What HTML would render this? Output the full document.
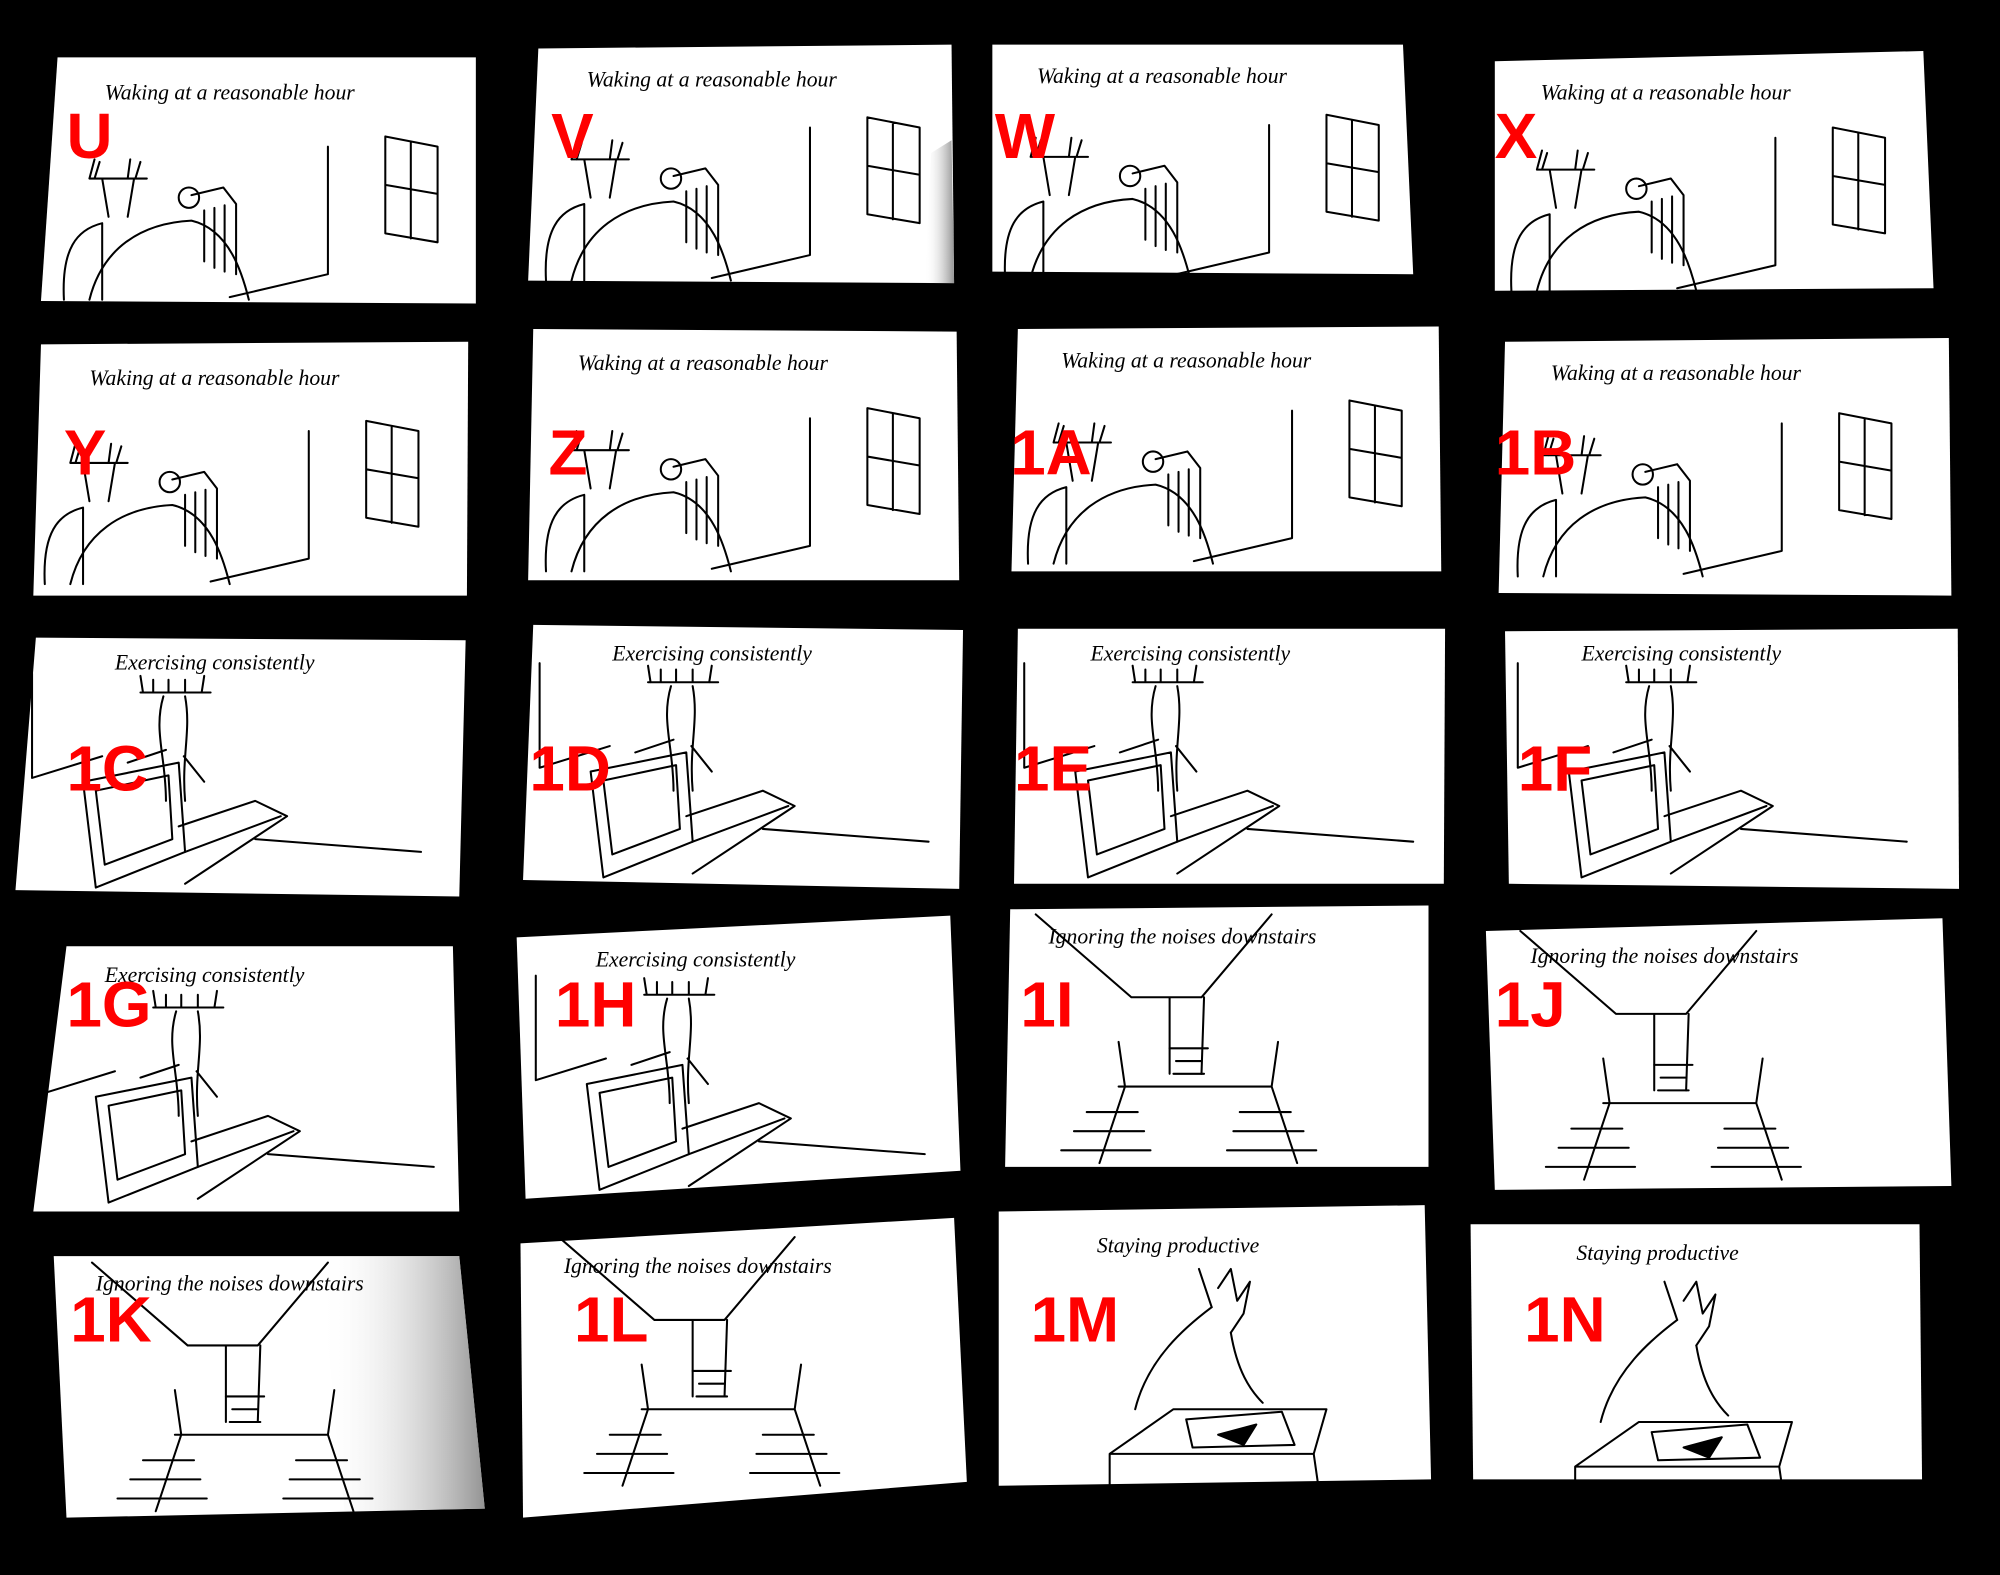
<!DOCTYPE html>
<html><head><meta charset="utf-8"><style>
html,body{margin:0;padding:0;background:#000;}
svg{display:block}
.t{font-family:"Liberation Serif",serif;font-style:italic;font-size:17px;fill:#000}
.l{font-family:"Liberation Sans",sans-serif;font-weight:bold;font-size:50px;fill:#f00}
.s{fill:none;stroke:#000;stroke-width:1.6;stroke-linejoin:round;stroke-linecap:round}
</style></head><body>
<svg width="2000" height="1575" viewBox="0 0 1568 1235" xmlns="http://www.w3.org/2000/svg">
<rect width="1568" height="1235" fill="#000"/>
<defs>
<linearGradient id="gk" x1="0" x2="1" y1="0" y2="0">
 <stop offset="0" stop-color="#fff" stop-opacity="0"/>
 <stop offset="1" stop-color="#888" stop-opacity="0.9"/>
</linearGradient>
<g id="wake" class="s">
 <path d="M217 70 L217 170 L140 188"/>
 <path d="M262 62 L303 70 L303 145 L262 138 Z M282 66 L282 142 M262 100 L303 107"/>
 <path d="M10 190 C8 150 20 135 40 130 L40 190"/>
 <path d="M30 190 C40 150 70 130 110 128 C140 135 150 170 155 190"/>
 <path d="M30 95 L34 80 M34 95 L38 82 M60 95 L62 80 M66 95 L70 82 M30 95 L75 95 M40 95 L45 125 M65 95 L60 125"/>
 <path d="M110 108 L135 102 L145 115 L145 170 M120 120 L120 160 M128 118 L128 165 M136 116 L136 168"/>
 <circle cx="108" cy="110" r="8"/>
</g>
<g id="ex" class="s">
 <path d="M5 112 L60 95 M5 112 L5 30 M180 160 L310 170"/>
 <path d="M45 115 L120 100 L125 170 L55 198 Z M55 122 L112 110 L115 160 L62 180 Z"/>
 <path d="M120 150 L180 130 L205 142 L125 195 M125 170 L200 142"/>
 <path d="M90 45 L145 45 M92 45 L90 32 M100 45 L100 35 M112 45 L112 35 M125 45 L125 35 M138 45 L140 32"/>
 <path d="M108 48 C100 75 110 95 110 130 M125 48 C130 75 122 95 125 130 M110 90 L80 100 M124 95 L140 115"/>
</g>
<g id="st" class="s">
 <path d="M20 5 L95 70 L150 70 L205 5 M125 70 L125 130 M152 70 L150 130"/>
 <path d="M85 105 L90 140 L205 140 L210 105 M90 140 L70 200 M205 140 L225 200 M85 140 L120 140"/>
 <path d="M60 160 L100 160 M50 175 L105 175 M40 190 L110 190 M180 160 L220 160 M175 175 L230 175 M170 190 L240 190"/>
 <path d="M130 120 L150 120 M128 130 L152 130 M125 110 L155 110"/>
</g>
<g id="pr" class="s">
 <path d="M150 40 L160 70 M165 55 L175 40 L180 65 L190 50 L185 75 L175 90"/>
 <path d="M100 150 C110 110 140 85 160 70 M175 90 C180 120 190 135 200 145"/>
 <path d="M80 185 L130 150 L250 150 L240 185 Z M240 185 L245 220 M80 185 L80 220"/>
 <path d="M140 158 L215 152 L225 178 L145 180 Z"/>
 <path d="M165 170 L195 162 L185 178 Z" fill="#000"/>
</g>
</defs>

<polygon points="45,45 373,45 373,238 32,236" fill="#fff"/>
<use href="#wake" x="40" y="45"/><text class="t" x="82" y="78">Waking at a reasonable hour</text><text class="l" x="52" y="124">U</text>
<polygon points="422,38 746,35 748,222 414,220" fill="#fff"/>
<polygon points="730,120 746,110 748,222 725,222" fill="url(#gk)"/>
<use href="#wake" x="418" y="30"/><text class="t" x="460" y="68">Waking at a reasonable hour</text><text class="l" x="432" y="124">V</text>
<polygon points="778,35 1100,35 1108,215 778,213" fill="#fff"/>
<use href="#wake" x="778" y="28"/><text class="t" x="813" y="65">Waking at a reasonable hour</text><text class="l" x="780" y="124">W</text>
<polygon points="1172,48 1508,40 1516,226 1172,228" fill="#fff"/>
<use href="#wake" x="1175" y="38"/><text class="t" x="1208" y="78">Waking at a reasonable hour</text><text class="l" x="1172" y="124">X</text>

<polygon points="32,270 367,268 366,467 26,467" fill="#fff"/>
<use href="#wake" x="25" y="268"/><text class="t" x="70" y="302">Waking at a reasonable hour</text><text class="l" x="50" y="372">Y</text>
<polygon points="418,258 750,260 752,455 414,455" fill="#fff"/>
<use href="#wake" x="418" y="258"/><text class="t" x="453" y="290">Waking at a reasonable hour</text><text class="l" x="430" y="372">Z</text>
<polygon points="798,258 1128,256 1130,448 793,448" fill="#fff"/>
<use href="#wake" x="796" y="252"/><text class="t" x="832" y="288">Waking at a reasonable hour</text><text class="l" x="792" y="372">1A</text>
<polygon points="1180,268 1528,265 1530,467 1175,465" fill="#fff"/>
<use href="#wake" x="1180" y="262"/><text class="t" x="1216" y="298">Waking at a reasonable hour</text><text class="l" x="1172" y="372">1B</text>

<polygon points="28,500 365,502 360,703 12,698" fill="#fff"/>
<use href="#ex" x="20" y="498"/><text class="t" x="90" y="525">Exercising consistently</text><text class="l" x="52" y="620">1C</text>
<polygon points="418,490 755,494 752,697 410,690" fill="#fff"/>
<use href="#ex" x="418" y="490"/><text class="t" x="480" y="518">Exercising consistently</text><text class="l" x="415" y="620">1D</text>
<polygon points="798,493 1133,493 1132,693 795,693" fill="#fff"/>
<use href="#ex" x="798" y="490"/><text class="t" x="855" y="518">Exercising consistently</text><text class="l" x="795" y="620">1E</text>
<polygon points="1180,495 1535,493 1536,697 1183,693" fill="#fff"/>
<use href="#ex" x="1185" y="490"/><text class="t" x="1240" y="518">Exercising consistently</text><text class="l" x="1190" y="620">1F</text>

<polygon points="52,742 355,742 360,950 26,950" fill="#fff"/>
<use href="#ex" x="30" y="745"/><text class="t" x="82" y="770">Exercising consistently</text><text class="l" x="52" y="805">1G</text>
<polygon points="405,735 745,718 753,918 412,940" fill="#fff"/>
<use href="#ex" x="415" y="735"/><text class="t" x="467" y="758">Exercising consistently</text><text class="l" x="435" y="805">1H</text>
<polygon points="792,713 1120,710 1120,915 788,915" fill="#fff"/>
<use href="#st" x="792" y="712"/><text class="t" x="822" y="740">Ignoring the noises downstairs</text><text class="l" x="800" y="805">1I</text>
<polygon points="1165,730 1523,720 1530,930 1172,933" fill="#fff"/>
<use href="#st" x="1172" y="725"/><text class="t" x="1200" y="755">Ignoring the noises downstairs</text><text class="l" x="1172" y="805">1J</text>

<polygon points="42,985 360,985 380,1183 52,1190" fill="#fff"/>
<polygon points="250,985 360,985 380,1183 270,1185" fill="url(#gk)"/>
<use href="#st" x="52" y="985"/><text class="t" x="75" y="1012">Ignoring the noises downstairs</text><text class="l" x="55" y="1052">1K</text>
<polygon points="408,975 748,955 758,1162 410,1190" fill="#fff"/>
<use href="#st" x="418" y="965"/><text class="t" x="442" y="998">Ignoring the noises downstairs</text><text class="l" x="450" y="1052">1L</text>
<polygon points="783,950 1117,945 1122,1160 783,1165" fill="#fff"/>
<use href="#pr" x="790" y="955"/><text class="t" x="860" y="982">Staying productive</text><text class="l" x="808" y="1052">1M</text>
<polygon points="1153,960 1505,960 1507,1160 1155,1160" fill="#fff"/>
<use href="#pr" x="1155" y="965"/><text class="t" x="1236" y="988">Staying productive</text><text class="l" x="1195" y="1052">1N</text>
</svg>
</body></html>
